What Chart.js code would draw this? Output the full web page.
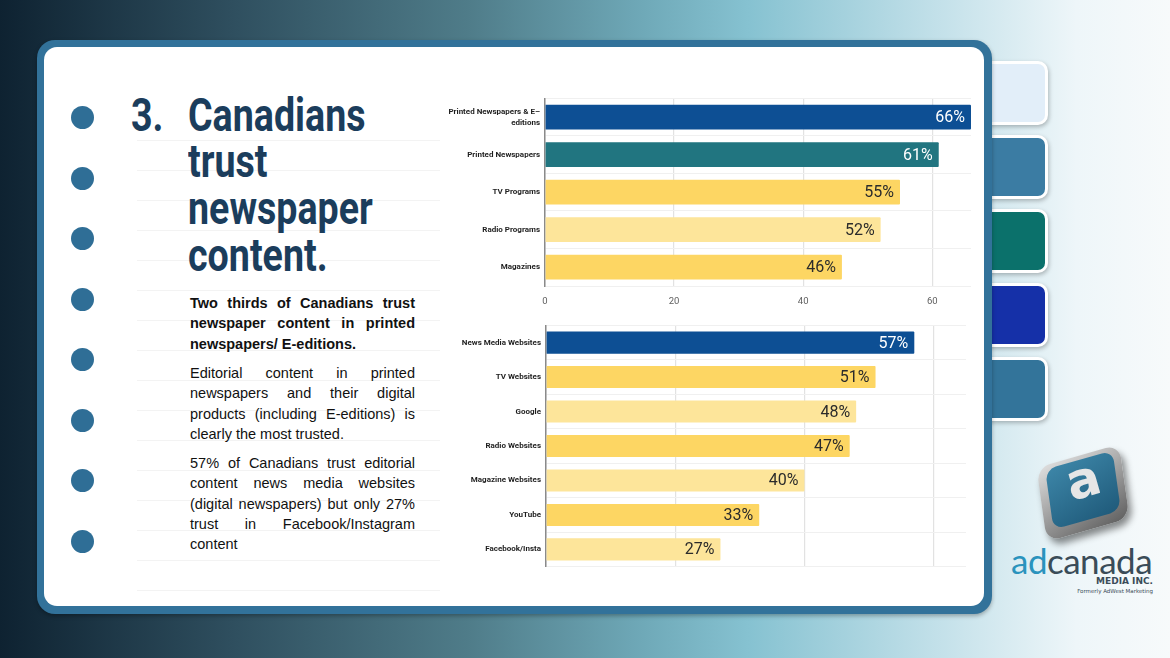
<!DOCTYPE html>
<html>
<head>
<meta charset="utf-8">
<script src="https://cdn.jsdelivr.net/npm/chart.js@4"></script>
<style>
  html, body { margin: 0; padding: 0; }
  body {
    width: 1170px; height: 658px; position: relative; overflow: hidden;
    background: linear-gradient(90deg, #0e2231 0%, #2f4f5f 20%, #4f7c89 40%, #6fa9b8 55%, #86c2d1 64%, #c2e0e9 80%, #eef6f9 92%, #f7fafb 100%);
    font-family: "Liberation Sans", Arial, sans-serif;
  }
  .tab {
    position: absolute; left: 980px; width: 62px; height: 58px;
    border: 3px solid #fff; border-radius: 10px;
    box-shadow: 1px 2px 4px rgba(0,0,0,0.25);
  }
  .card {
    position: absolute; left: 37px; top: 40px; width: 955px; height: 574px;
    background: #32729a; border-radius: 18px;
    box-shadow: 0 2px 4px rgba(0,0,0,0.3);
  }
  .card-in {
    position: absolute; left: 7px; top: 7px; right: 8px; bottom: 8px;
    background: #fff; border-radius: 13px;
  }
  .dot {
    position: absolute; left: 71px; width: 23px; height: 23px; border-radius: 50%;
    background: #2f6e96;
  }
  .rule {
    position: absolute; left: 137px; width: 303px; height: 1px; background: #f3f3f3;
  }
  .title {
    position: absolute; font-family: Roboto, sans-serif; font-weight: 700;
    font-size: 47px; color: #1b3d5c; line-height: 1; white-space: nowrap;
    transform: scaleX(0.8); transform-origin: left top;
  }
  .body {
    position: absolute; left: 190px; width: 225px; font-size: 14.5px;
    line-height: 20.3px; color: #111; text-align: justify;
  }
  canvas { position: absolute; }
</style>
</head>
<body>
<div class="tab" style="top:61px;background:#e2eef9"></div>
<div class="tab" style="top:135px;background:#3b7ca3"></div>
<div class="tab" style="top:209px;background:#0b716b"></div>
<div class="tab" style="top:283px;background:#1530a8"></div>
<div class="tab" style="top:357px;background:#33749a"></div>

<div class="card"><div class="card-in"></div></div>

<div id="decor"></div>

<div class="title" style="left:131px;top:91px">3.</div>
<div class="title" style="left:188px;top:91px">Canadians</div>
<div class="title" style="left:188px;top:137px">trust</div>
<div class="title" style="left:188px;top:184px">newspaper</div>
<div class="title" style="left:188px;top:231px">content.</div>

<div class="body" style="top:293px;font-weight:bold">Two thirds of Canadians trust newspaper content in printed newspapers/ E-editions.</div>
<div class="body" style="top:363px">Editorial content in printed newspapers and their digital products (including E-editions) is clearly the most trusted.</div>
<div class="body" style="top:453px">57% of Canadians trust editorial content news media websites (digital newspapers) but only 27% trust in Facebook/Instagram content</div>

<canvas id="topChart"></canvas>
<canvas id="bottomChart"></canvas>

<!-- logo -->
<div style="position:absolute;left:1040px;top:456px;width:86px;height:74px;border-radius:14px;transform:rotate(-16deg) skewX(-8deg);background:linear-gradient(160deg,#e0e0e0,#5f5f5f);box-shadow:3px 6px 7px rgba(0,0,0,0.45);"></div>
<div style="position:absolute;left:1048px;top:460px;width:70px;height:60px;border-radius:11px;transform:rotate(-16deg) skewX(-8deg);background:linear-gradient(160deg,#3d86a8,#1f5a7a);"></div>
<div style="position:absolute;left:1060px;top:451px;width:46px;text-align:center;font-family:'DejaVu Sans',sans-serif;font-weight:bold;font-size:50px;color:#e6e6e6;transform:rotate(-16deg);">a</div>
<div style="position:absolute;left:1011px;top:543px;font-family:Lato,sans-serif;font-size:35px;letter-spacing:-0.5px;line-height:1;"><span style="color:#2a93bd">ad</span><span style="color:#3a4c58">canada</span></div>
<div style="position:absolute;left:1080px;top:576px;width:73px;text-align:right;font-family:'DejaVu Sans',sans-serif;font-weight:bold;font-size:9px;color:#3a4c58;">MEDIA INC.</div>
<div style="position:absolute;left:1040px;top:588px;width:113px;text-align:right;font-family:'DejaVu Sans',sans-serif;font-size:5.5px;color:#3a4c58;">Formerly AdWest Marketing</div>

<script>
// --- données ---
const topCategories = [['Printed Newspapers & E–', 'editions'], 'Printed Newspapers', 'TV Programs', 'Radio Programs', 'Magazines'];
const topValues = [66, 61, 55, 52, 46];
const bottomCategories = ['News Media Websites', 'TV Websites', 'Google', 'Radio Websites', 'Magazine Websites', 'YouTube', 'Facebook/Insta'];
const bottomValues = [57, 51, 48, 47, 40, 33, 27];
const xTickValues = [0, 20, 40, 60];

// couleurs des barres
const topColors = ['#0d4f94', '#217580', '#fdd663', '#fde59a', '#fdd663'];
const bottomColors = ['#0d4f94', '#fdd663', '#fde59a', '#fdd663', '#fde59a', '#fdd663', '#fde59a'];
const darkBars = ['#0d4f94', '#217580'];

// decor: dots and faint rules
const decor = document.getElementById('decor');
for (let i = 0; i < 8; i++) {
  const d = document.createElement('div');
  d.className = 'dot';
  d.style.top = (106 + i * 60.5) + 'px';
  decor.appendChild(d);
}
for (let y = 140; y <= 590; y += 30) {
  const r = document.createElement('div');
  r.className = 'rule';
  r.style.top = y + 'px';
  decor.appendChild(r);
}

// étiquettes de valeur au bout des barres
const valueLabels = {
  id: 'valueLabels',
  afterDatasetsDraw(chart) {
    const ctx = chart.ctx;
    const ds = chart.data.datasets[0];
    chart.getDatasetMeta(0).data.forEach((bar, i) => {
      ctx.save();
      ctx.font = '16px Roboto';
      ctx.textAlign = 'right';
      ctx.textBaseline = 'middle';
      ctx.fillStyle = darkBars.includes(ds.backgroundColor[i]) ? '#ffffff' : '#2b2b2b';
      ctx.fillText(ds.data[i] + '%', bar.x - 6, bar.y + 1);
      ctx.restore();
    });
  },
};

function makeChart(id, cats, values, colors, opts) {
  const canvas = document.getElementById(id);
  canvas.style.left = opts.left + 'px';
  canvas.style.top = opts.top + 'px';
  canvas.style.width = opts.width + 'px';
  canvas.style.height = opts.height + 'px';
  return new Chart(canvas, {
    type: 'bar',
    data: {
      labels: cats,
      datasets: [{
        data: values,
        backgroundColor: colors,
        borderWidth: 0,
        borderRadius: 1,
        categoryPercentage: 1,
        barPercentage: opts.barPct,
      }],
    },
    options: {
      indexAxis: 'y',
      responsive: false,
      animation: false,
      layout: { padding: { top: opts.padTop, right: 0, left: 0, bottom: 0 } },
      plugins: { legend: { display: false }, tooltip: { enabled: false } },
      scales: {
        x: {
          min: 0,
          max: opts.max,
          afterBuildTicks: (s) => { s.ticks = xTickValues.map(v => ({ value: v })); },
          afterFit: (s) => { s.height = opts.xHeight; },
          grid: { color: '#e2e2e2', lineWidth: 1.2, drawTicks: false },
          border: { display: false },
          ticks: {
            display: opts.showTicks,
            padding: 10,
            color: '#606060',
            font: { family: 'Roboto', size: 9.5 },
          },
        },
        y: {
          afterFit: (s) => { s.width = opts.yWidth; },
          grid: { color: '#f0f0f0', drawTicks: false },
          border: { display: true, color: '#8a8a8a', width: 1.5 },
          ticks: {
            padding: 5,
            color: '#1e1e1e',
            font: { family: 'Roboto', size: 8, weight: 'bold', lineHeight: 1.35 },
          },
        },
      },
    },
    plugins: [valueLabels],
  });
}

makeChart('topChart', topCategories, topValues, topColors, {
  left: 430, top: 88, width: 541, height: 220,
  padTop: 9, xHeight: 22, yWidth: 115, max: 66, barPct: 0.66, showTicks: true,
});

makeChart('bottomChart', bottomCategories, bottomValues, bottomColors, {
  left: 430, top: 315, width: 536, height: 262,
  padTop: 6, xHeight: 6, yWidth: 116, max: 65, barPct: 0.64, showTicks: false,
});
</script>
</body>
</html>
